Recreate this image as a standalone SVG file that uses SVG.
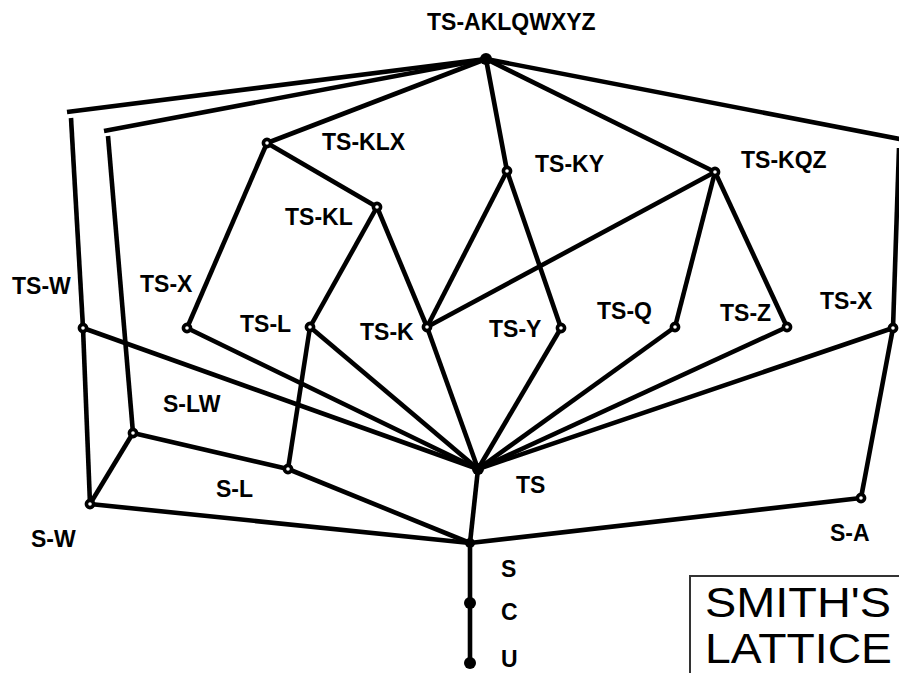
<svg xmlns="http://www.w3.org/2000/svg" width="899" height="673" viewBox="0 0 899 673">
  <style>
    .edge { stroke: #000; stroke-width: 4.6; fill: none; }
    .node { fill: #fff; stroke: #000; stroke-width: 3.6; }
    .solid { fill: #000; stroke: none; }
    .lbl { font-family: "Liberation Sans", Arial, sans-serif; font-weight: bold; font-size: 23px; fill: #000; }
    .title { font-family: "Liberation Sans", Arial, sans-serif; font-size: 42px; fill: #000; }
  </style>
  <rect width="899" height="673" fill="#fff"/>

  <!-- connectors -->
  <g id="edges" class="edge">
    <line x1="486" y1="59" x2="67" y2="112"/>
    <line x1="71" y1="118" x2="83" y2="328"/>
    <line x1="486" y1="59" x2="104" y2="131"/>
    <line x1="108" y1="136" x2="133" y2="433"/>
    <line x1="486" y1="59" x2="267" y2="143"/>
    <line x1="486" y1="59" x2="507" y2="171"/>
    <line x1="486" y1="59" x2="715" y2="172"/>
    <line x1="486" y1="59" x2="910" y2="141"/>
    <line x1="899" y1="148" x2="893" y2="328"/>
    <line x1="267" y1="143" x2="187" y2="328"/>
    <line x1="267" y1="143" x2="377" y2="207"/>
    <line x1="377" y1="207" x2="310" y2="327"/>
    <line x1="377" y1="207" x2="427" y2="327"/>
    <line x1="507" y1="171" x2="427" y2="327"/>
    <line x1="507" y1="171" x2="561" y2="328"/>
    <line x1="715" y1="172" x2="427" y2="327"/>
    <line x1="715" y1="172" x2="675" y2="327"/>
    <line x1="715" y1="172" x2="787" y2="327"/>
    <line x1="83" y1="328" x2="478" y2="469"/>
    <line x1="187" y1="328" x2="478" y2="469"/>
    <line x1="310" y1="327" x2="478" y2="469"/>
    <line x1="427" y1="327" x2="478" y2="469"/>
    <line x1="561" y1="328" x2="478" y2="469"/>
    <line x1="675" y1="327" x2="478" y2="469"/>
    <line x1="787" y1="327" x2="478" y2="469"/>
    <line x1="893" y1="328" x2="478" y2="469"/>
    <line x1="83" y1="328" x2="90" y2="504"/>
    <line x1="310" y1="327" x2="288" y2="469"/>
    <line x1="133" y1="433" x2="90" y2="504"/>
    <line x1="133" y1="433" x2="288" y2="469"/>
    <line x1="288" y1="469" x2="470" y2="543"/>
    <line x1="90" y1="504" x2="470" y2="543"/>
    <line x1="478" y1="469" x2="470" y2="543"/>
    <line x1="470" y1="543" x2="861" y2="498"/>
    <line x1="861" y1="498" x2="893" y2="328"/>
    <line x1="470" y1="543" x2="470" y2="603"/>
    <line x1="470" y1="603" x2="470" y2="663"/>
  </g>

  <!-- nodes -->
  <g id="n-ts-aklqwxyz"><circle class="solid" cx="486" cy="59" r="6"/><text class="lbl" x="427" y="30">TS-AKLQWXYZ</text></g>
  <g id="n-ts-klx"><circle class="node" cx="267" cy="143" r="3.6"/><text class="lbl" x="322" y="150">TS-KLX</text></g>
  <g id="n-ts-ky"><circle class="node" cx="507" cy="171" r="3.6"/><text class="lbl" x="535" y="172">TS-KY</text></g>
  <g id="n-ts-kqz"><circle class="node" cx="715" cy="172" r="3.6"/><text class="lbl" x="741" y="168">TS-KQZ</text></g>
  <g id="n-ts-kl"><circle class="node" cx="377" cy="207" r="3.6"/><text class="lbl" x="285" y="225">TS-KL</text></g>
  <g id="n-ts-w"><circle class="node" cx="83" cy="328" r="3.6"/><text class="lbl" x="12" y="294">TS-W</text></g>
  <g id="n-ts-x-left"><circle class="node" cx="187" cy="328" r="3.6"/><text class="lbl" x="140" y="292">TS-X</text></g>
  <g id="n-ts-l"><circle class="node" cx="310" cy="327" r="3.6"/><text class="lbl" x="240" y="332">TS-L</text></g>
  <g id="n-ts-k"><circle class="node" cx="427" cy="327" r="3.6"/><text class="lbl" x="360" y="340">TS-K</text></g>
  <g id="n-ts-y"><circle class="node" cx="561" cy="328" r="3.6"/><text class="lbl" x="489" y="337">TS-Y</text></g>
  <g id="n-ts-q"><circle class="node" cx="675" cy="327" r="3.6"/><text class="lbl" x="597" y="319">TS-Q</text></g>
  <g id="n-ts-z"><circle class="node" cx="787" cy="327" r="3.6"/><text class="lbl" x="720" y="321">TS-Z</text></g>
  <g id="n-ts-x-right"><circle class="node" cx="893" cy="328" r="3.6"/><text class="lbl" x="820" y="309">TS-X</text></g>
  <g id="n-s-lw"><circle class="node" cx="133" cy="433" r="3.6"/><text class="lbl" x="163" y="412">S-LW</text></g>
  <g id="n-s-l"><circle class="node" cx="288" cy="469" r="3.6"/><text class="lbl" x="216" y="497">S-L</text></g>
  <g id="n-ts"><circle class="solid" cx="478" cy="469" r="6"/><text class="lbl" x="516" y="493">TS</text></g>
  <g id="n-s-w"><circle class="node" cx="90" cy="504" r="3.6"/><text class="lbl" x="31" y="547">S-W</text></g>
  <g id="n-s-a"><circle class="node" cx="861" cy="498" r="3.6"/><text class="lbl" x="830" y="541">S-A</text></g>
  <g id="n-s"><circle class="solid" cx="470" cy="543" r="5"/><text class="lbl" x="501" y="577">S</text></g>
  <g id="n-c"><circle class="solid" cx="470" cy="603" r="6"/><text class="lbl" x="501" y="620">C</text></g>
  <g id="n-u"><circle class="solid" cx="470" cy="663" r="6"/><text class="lbl" x="501" y="667">U</text></g>

  <!-- title box -->
  <g id="title">
    <rect x="690" y="576" width="230" height="120" fill="none" stroke="#333" stroke-width="2"/>
    <text class="title" x="705" y="617" textLength="186" lengthAdjust="spacingAndGlyphs">SMITH'S</text>
    <text class="title" x="705" y="663" textLength="187" lengthAdjust="spacingAndGlyphs">LATTICE</text>
  </g>
</svg>
